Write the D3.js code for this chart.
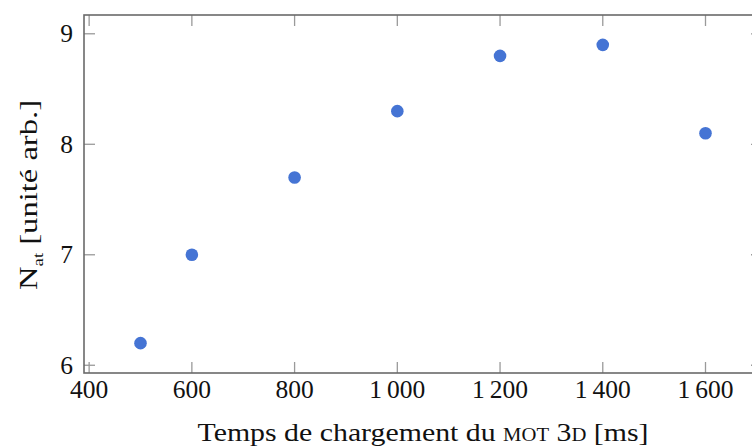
<!DOCTYPE html>
<html><head><meta charset="utf-8">
<script src="https://cdn.jsdelivr.net/npm/d3@7"></script>
<style>html,body{margin:0;padding:0;background:#fff;}svg{display:block;}</style>
</head><body>
<svg id="c" width="752" height="448"></svg>
<script>
const times = [500, 600, 800, 1000, 1200, 1400, 1600];
const natValues = [6.2, 7.0, 7.7, 8.3, 8.8, 8.9, 8.1];
const xTicks = [400, 600, 800, 1000, 1200, 1400, 1600];
const yTicks = [6, 7, 8, 9];

const svg = d3.select("#c");
const L = 84, R = 762, T = 15, B = 373;
const x = d3.scaleLinear().domain([390, 1710]).range([L, R]);
const y = d3.scaleLinear().domain([5.93, 9.17]).range([B, T]);
const loc = d3.formatLocale({decimal: ".", thousands: "\u2009", grouping: [3], currency: ["", ""]});
const fmt = v => v >= 1000 ? loc.format(",")(v) : String(v);
const font = "'Liberation Serif', 'DejaVu Serif', serif";
const tickLen = 11;

// ticks (inward, all sides)
const tg = svg.append("g").attr("stroke", "#9a9a9a").attr("stroke-width", 1.3);
xTicks.forEach(v => {
  tg.append("line").attr("x1", x(v)).attr("x2", x(v)).attr("y1", B).attr("y2", B - tickLen);
  tg.append("line").attr("x1", x(v)).attr("x2", x(v)).attr("y1", T).attr("y2", T + tickLen);
});
yTicks.forEach(v => {
  tg.append("line").attr("y1", y(v)).attr("y2", y(v)).attr("x1", L).attr("x2", L + tickLen);
  tg.append("line").attr("y1", y(v)).attr("y2", y(v)).attr("x1", R).attr("x2", R - tickLen);
});

// frame
svg.append("rect").attr("x", L).attr("y", T).attr("width", R - L).attr("height", B - T)
  .attr("fill", "none").attr("stroke", "#6a6a6a").attr("stroke-width", 1.6);

// tick labels
svg.append("g").selectAll("text").data(xTicks).join("text")
  .attr("x", d => x(d)).attr("y", 398).attr("text-anchor", "middle")
  .attr("font-family", font).attr("font-size", 25.5).attr("fill", "#111")
  .text(d => fmt(d));
svg.append("g").selectAll("text").data(yTicks).join("text")
  .attr("x", 73).attr("y", d => y(d) + 8.5).attr("text-anchor", "end")
  .attr("font-family", font).attr("font-size", 25.5).attr("fill", "#111")
  .text(d => d);

// points
svg.append("g").selectAll("circle").data(times).join("circle")
  .attr("cx", (d) => x(d)).attr("cy", (d, i) => y(natValues[i])).attr("r", 6.3)
  .attr("fill", "#4574d4");

// x label
const xl = svg.append("text").attr("x", 423).attr("y", 441).attr("text-anchor", "middle")
  .attr("font-family", font).attr("font-size", 26).attr("fill", "#111")
  .attr("textLength", 451).attr("lengthAdjust", "spacingAndGlyphs");
xl.append("tspan").text("Temps de chargement du ");
xl.append("tspan").attr("font-variant", "small-caps").text("mot 3d");
xl.append("tspan").text(" [ms]");

// y label
const yl = svg.append("text").attr("transform", "translate(37,195) rotate(-90)")
  .attr("text-anchor", "middle").attr("font-family", font).attr("font-size", 26).attr("fill", "#111")
  .attr("textLength", 190).attr("lengthAdjust", "spacingAndGlyphs");
yl.append("tspan").text("N");
yl.append("tspan").attr("font-size", 15).attr("dy", 6).text("at");
yl.append("tspan").attr("dy", -6).text("  [unité arb.]");
</script>
</body></html>
